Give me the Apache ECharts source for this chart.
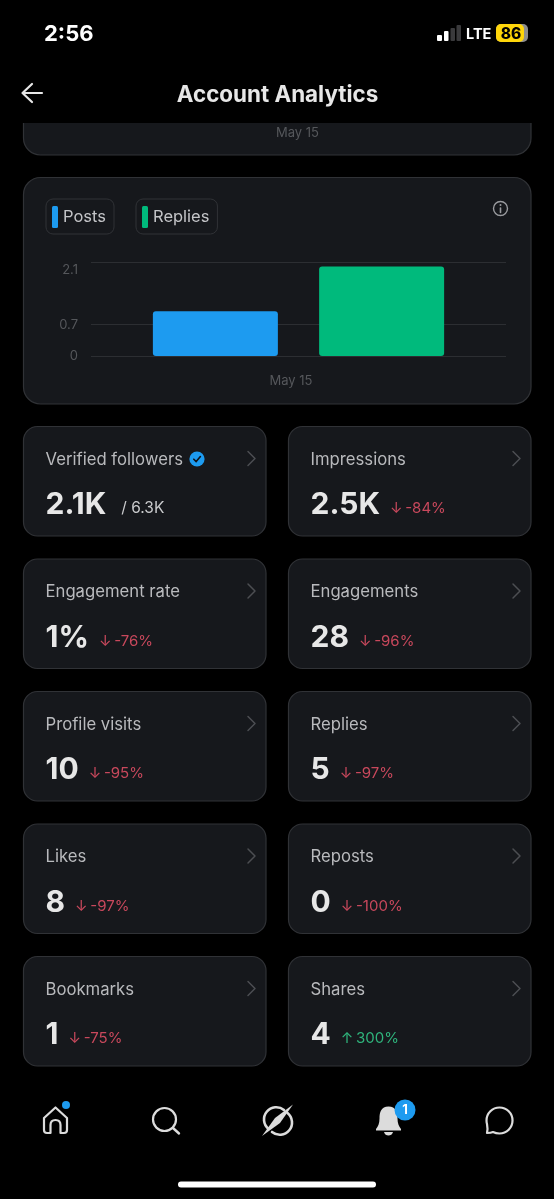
<!DOCTYPE html>
<html><head><meta charset="utf-8">
<style>html,body{margin:0;padding:0;background:#000}#c{width:554px;height:1199px}</style>
<script src="https://cdn.jsdelivr.net/npm/echarts@6/dist/echarts.min.js"></script>
</head><body><div id="c"></div>
<script>
const categories = ['May 15'];
const postsValues = [1];
const repliesValues = [2];
const yTickValues = [0, 0.7, 2.1];
const cardLabels = ['Verified followers','Impressions','Engagement rate','Engagements','Profile visits','Replies','Likes','Reposts','Bookmarks','Shares'];
const cardValues = ['2.1K','2.5K','1%','28','10','5','8','0','1','4'];
const cardDeltas = ['/ 6.3K','-84%','-76%','-96%','-95%','-97%','-97%','-100%','-75%','300%'];

const FONT = 'Inter';
const CARD = '#16181c', EDGE = '#303236', MUTED = '#55575b';
const g = [];
let pathId = 0;
const pathType = d => { const n = 'iconPath' + (pathId++); echarts.graphic.registerShape(n, echarts.graphic.extendPath(d, {})); return n; };
const card = (x, y, w, h, r) => g.push({type:'rect', z:-2, shape:{x:x+.5, y:y+.5, width:w, height:h, r}, style:{fill:CARD, stroke:EDGE, lineWidth:1.2}});
const text = (x, y, t, font, fill, align, extra) => g.push({type:'text', z:5, x, y, style:Object.assign({text:t, font, fill, align:align||'left', verticalAlign:'middle'}, extra||{})});
const stroke = (d, c, w, dy) => g.push({type:pathType(d), z:5, y:dy||0, style:{fill:'none', stroke:c||'#dcdcdc', lineWidth:w||2, lineCap:'round', lineJoin:'round'}});
const fill = (d, c, dy) => g.push({type:pathType(d), z:5, y:dy||0, style:{fill:c, stroke:'none'}});
const circle = (cx, cy, r, c, z) => g.push({type:'circle', z:z||5, shape:{cx, cy, r}, style:{fill:c}});

// top card (scrolled) and header mask
card(23, 90, 507.5, 64.5, 17);
g.push({type:'rect', z:-1, shape:{x:0, y:0, width:554, height:123}, style:{fill:'#000'}});
text(297.5, 133, categories[0], '13px '+FONT, MUTED, 'center');
// status bar
text(44, 34.5, '2:56', '700 22px '+FONT, '#fff');
[[437,5,6,'#fff'],[444,4.5,10,'#fff'],[450.5,4.5,13,'#3a3a3c'],[456.5,4.5,16,'#3a3a3c']].forEach(b =>
  g.push({type:'rect', z:5, shape:{x:b[0], y:41-b[2], width:b[1], height:b[2], r:1}, style:{fill:b[3]}}));
text(466, 34.5, 'LTE', '700 14.5px '+FONT, '#fff');
g.push({type:'rect', z:5, shape:{x:496, y:24, width:32, height:18, r:5}, style:{fill:'#8e8e8e'}});
g.push({type:'rect', z:6, shape:{x:496, y:24, width:28, height:18, r:5}, style:{fill:'#ffd60a'}});
text(511, 34, '86', '800 15.5px '+FONT, '#000', 'center', {});
g[g.length-1].z = 7;
// header
stroke('M42 93H23M32 84L22.5 93L32 102', '#e7e7e7', 2.2);
text(277.5, 95, 'Account Analytics', '700 22.4px '+FONT, '#e7e7e7', 'center');
// chart card
card(23, 177, 507.5, 226.5, 17);
g.push({type:'circle', z:5, shape:{cx:500.5, cy:208.5, r:7}, style:{fill:'none', stroke:'#9a9b9f', lineWidth:1.4}});
stroke('M500.5 208V212.5', '#9a9b9f', 1.6); circle(500.5, 205, 1, '#9a9b9f');

// metric cards
cardLabels.forEach((label, i) => {
  const col = i % 2, row = Math.floor(i / 2);
  const x = col ? 288 : 23, y = 426 + row * 132.5;
  card(x, y, 242.5, 109.5, 14);
  text(x + 22.5, y + 33.5, label, '16.7px '+FONT, '#b9babd');
  stroke(`M${x+225} ${y+25.5}L${x+232} ${y+32.5}L${x+225} ${y+39.5}`, '#4c4e52', 1.5);
  const d = cardDeltas[i];
  const isRatio = d[0] === '/', up = !isRatio && d[0] !== '-';
  const key = isRatio ? 's' : up ? 'u' : 'd';
  const dText = isRatio ? d : (up ? '↑\u2009' : '↓\u2009') + d;
  text(x + 22.5, y + 79, `{v|${cardValues[i]}}{${key}|${dText}}`, '700 30px '+FONT, '#e7e7e7', 'left', {
    rich: {
      v:{fontFamily:FONT, fontWeight:700, fontSize:30, fill:'#e7e7e7'},
      s:{fontFamily:FONT, fontSize:15.5, fill:'#c9cacc', padding:[7,0,0,15]},
      d:{fontFamily:FONT, fontSize:15, fill:'#c8485c', padding:[7,0,0,10]},
      u:{fontFamily:FONT, fontSize:15, fill:'#2fb47c', padding:[7,0,0,10]}
    }
  });
});
// verified badge
circle(197, 459, 7.6, '#1d9bf0');
stroke('M193.8 459.2L196.2 461.6L200.4 456.6', '#10141a', 1.6);

// nav bar
stroke('M44 1119L55.5 1108.5L67 1119V1131Q67 1134 64 1134H60.5V1126Q60.5 1121 55.5 1121Q50.5 1121 50.5 1126V1134H47Q44 1134 44 1131Z', '#dcdcdc', 2.2, -1);
circle(66, 1105, 4, '#1d9bf0');
g.push({type:'circle', z:5, shape:{cx:164.5, cy:1119.5, r:11.5}, style:{fill:'none', stroke:'#dcdcdc', lineWidth:2.2}});
stroke('M173 1128L179 1133.5', '#dcdcdc', 2.4);
stroke('M268.5 1129A12 12 0 0 1 284 1110M287.5 1113A12 12 0 0 1 272 1132', '#dcdcdc', 2.6);
fill('M293 1104.5L280 1123L262 1136L275 1118Z', '#dcdcdc');
fill('M388.5 1109C381 1109 379.5 1115 379.5 1121C379.5 1126 378 1129 376 1131.5V1133H401V1131.5C399 1129 397.5 1126 397.5 1121C397.5 1115 396 1109 388.5 1109ZM384 1134.5H393C392.5 1137 390.5 1138 388.5 1138C386.5 1138 384.5 1137 384 1134.5Z', '#dcdcdc', -2.5);
circle(405, 1110, 10.5, '#1d9bf0', 6);
text(405, 1110.5, '1', '700 13px '+FONT, '#fff', 'center'); g[g.length-1].z = 7;
stroke('M487 1135Q491 1135 493 1134Q496 1135.5 499.5 1135.5A13 13 0 1 0 487 1126Q488 1131 487 1135Z', '#dcdcdc', 2.2, -2);
g.push({type:'rect', z:5, shape:{x:178, y:1181.5, width:198, height:6, r:3}, style:{fill:'#fff'}});

const legendBase = {
  orient:'horizontal', icon:'roundRect', itemWidth:6, itemHeight:22, padding:[7,8,6,6],
  borderColor:'#303236', borderWidth:1, borderRadius:7, backgroundColor:'transparent',
  textStyle:{color:'#c4c5c8', fontFamily:FONT, fontSize:16.5}
};
const chart = echarts.init(document.getElementById('c'), null, {width:554, height:1199, renderer:'canvas'});
chart.setOption({
  animation:false,
  backgroundColor:'#000',
  textStyle:{fontFamily:FONT},
  legend:[
    Object.assign({}, legendBase, {left:46, top:199, data:['Posts']}),
    Object.assign({}, legendBase, {left:136, top:199, data:['Replies']})
  ],
  grid:{left:91, right:48, top:262, bottom:843},
  xAxis:{type:'category', data:categories,
    axisLine:{show:false}, axisTick:{show:false},
    axisLabel:{color:MUTED, fontSize:13, fontFamily:FONT, margin:19, padding:[0,15,0,0]}},
  yAxis:{type:'value', min:0, max:2.1,
    axisLine:{show:false},
    axisTick:{show:false, customValues:yTickValues},
    axisLabel:{customValues:yTickValues, color:MUTED, fontSize:13, fontFamily:FONT, margin:13, verticalAlignMaxLabel:'top', padding:[2,0,0,0],
      formatter:v => String(v)},
    splitLine:{show:true, lineStyle:{color:'#2c2e32', width:1}}},
  series:[
    {name:'Posts', type:'bar', data:postsValues, barWidth:125, barGap:'33%', itemStyle:{color:'#1d9bf0', borderRadius:3}},
    {name:'Replies', type:'bar', data:repliesValues, barWidth:125, itemStyle:{color:'#00ba7c', borderRadius:3}}
  ],
  graphic:{elements:g}
});
</script></body></html>
